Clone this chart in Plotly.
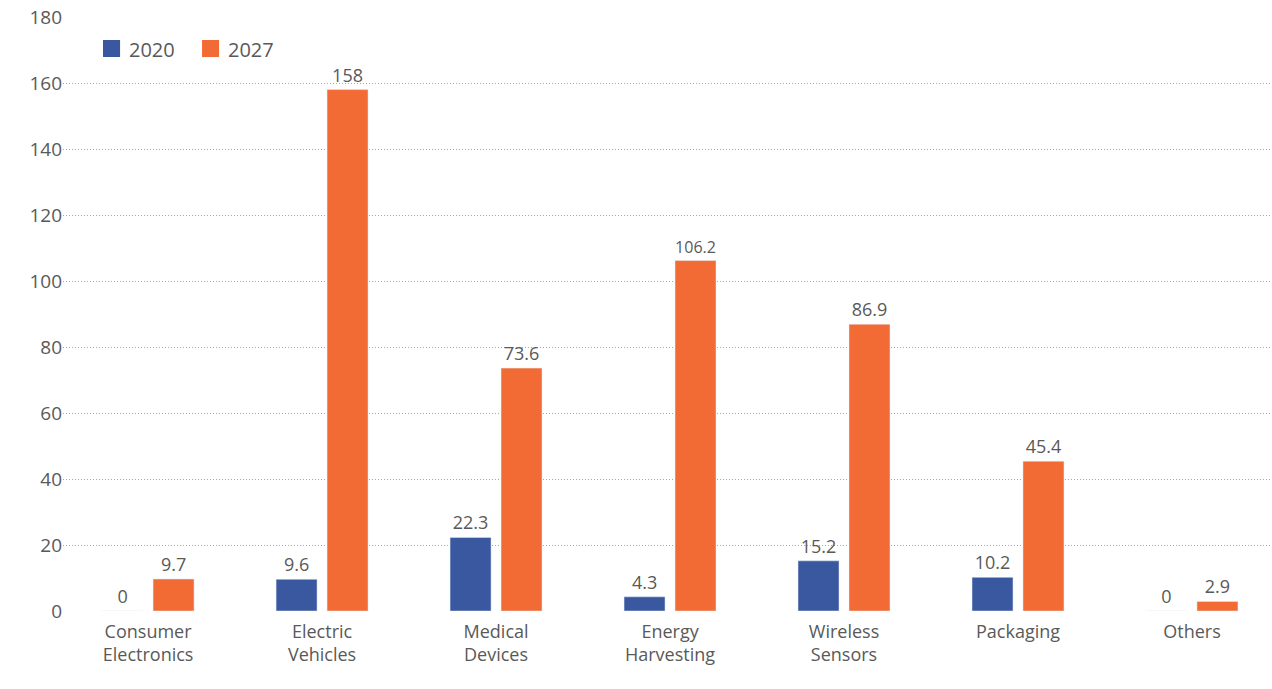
import plotly.graph_objects as go

categories = ["Consumer<br>Electronics", "Electric<br>Vehicles", "Medical<br>Devices",
              "Energy<br>Harvesting", "Wireless<br>Sensors", "Packaging", "Others"]
values_2020 = [0, 9.6, 22.3, 4.3, 15.2, 10.2, 0]
values_2027 = [9.7, 158, 73.6, 106.2, 86.9, 45.4, 2.9]
labels_2020 = ["0", "9.6", "22.3", "4.3", "15.2", "10.2", "0"]
labels_2027 = ["9.7", "158", "73.6", "106.2", "86.9", "45.4", "2.9"]
y_ticks = [0, 20, 40, 60, 80, 100, 120, 140, 160, 180]
series_names = ["2020", "2027"]

FONT = "Open Sans, Noto Sans, sans-serif"
GRAY = "#595959"
COLORS = ["#3A58A0", "#F26B35"]

fig = go.Figure()
fig.add_trace(go.Bar(name=series_names[0], x=categories, y=values_2020, text=labels_2020,
                     textposition="outside", marker_color=COLORS[0], showlegend=False,
                     textfont=dict(size=18, color=GRAY, family=FONT), cliponaxis=False))
fig.add_trace(go.Bar(name=series_names[1], x=categories, y=values_2027, text=labels_2027,
                     textposition="outside", marker_color=COLORS[1], showlegend=False,
                     textfont=dict(size=18, color=GRAY, family=FONT), cliponaxis=False))

# Custom legend (larger square swatches like the reference)
legend_x = [0.0331, 0.115]
for i, name in enumerate(series_names):
    x0 = legend_x[i]
    fig.add_shape(type="rect", xref="paper", yref="paper",
                  x0=x0, x1=x0 + 0.0141, y0=0.9327, y1=0.9613,
                  fillcolor=COLORS[i], line_width=0)
    fig.add_annotation(xref="paper", yref="paper", x=x0 + 0.0198, y=0.9455,
                       text=name, showarrow=False, xanchor="left", yanchor="middle",
                       font=dict(size=20, color=GRAY, family=FONT))

fig.update_layout(
    width=1272, height=689,
    margin=dict(l=63, r=0, t=17, b=78),
    paper_bgcolor="white", plot_bgcolor="white",
    barmode="group", bargap=0.414, bargroupgap=0.196,
    font=dict(family=FONT, color=GRAY, size=18),
    showlegend=False,
)
fig.update_xaxes(showline=False, ticks="", range=[-0.489, 6.46], ticklabelstandoff=8,
                 tickfont=dict(size=18, color=GRAY, family=FONT))
fig.update_yaxes(range=[0, 180], tickvals=y_ticks, showgrid=True, gridcolor="#A6A6A6",
                 griddash="1px,2px", gridwidth=1, zeroline=False, showline=False,
                 tickfont=dict(size=19, color=GRAY, family=FONT), ticks="")

fig.write_html("out.html")
